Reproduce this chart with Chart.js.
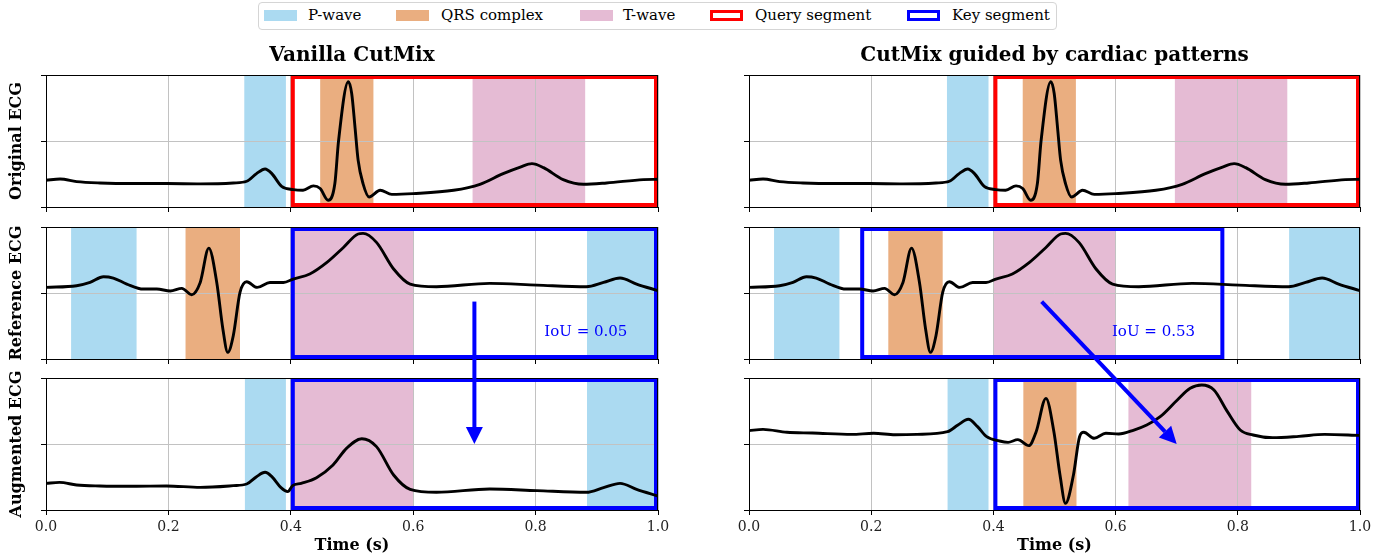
<!DOCTYPE html>
<html>
<head>
<meta charset="utf-8">
<script src="https://cdn.jsdelivr.net/npm/chart.js@4.4.1/dist/chart.umd.min.js"></script>
<style>
  body { margin: 0; background: #fff; width: 1395px; height: 556px; position: relative; overflow: hidden; font-family: "DejaVu Serif", serif; }
  canvas { position: absolute; }
  #legend { position: absolute; left: 258px; top: 2px; width: 797px; height: 26px; border: 1px solid #d5d5d5; border-radius: 4px; }
  .patch { position: absolute; top: 7px; width: 33px; height: 11px; box-sizing: border-box; }
  .lbl { position: absolute; top: 2px; font-size: 15px; line-height: 20px; color: #000; white-space: nowrap; }
</style>
</head>
<body>
<div id="legend">
  <div class="patch" style="left:5px;background:#abdaf1"></div><div class="lbl" style="left:49px">P-wave</div>
  <div class="patch" style="left:137px;background:#eaae80"></div><div class="lbl" style="left:182px">QRS complex</div>
  <div class="patch" style="left:321px;background:#e5bbd4"></div><div class="lbl" style="left:364px">T-wave</div>
  <div class="patch" style="left:451px;border:3px solid #ff0000"></div><div class="lbl" style="left:496px">Query segment</div>
  <div class="patch" style="left:648px;border:3px solid #0000ff"></div><div class="lbl" style="left:693px">Key segment</div>
</div>

<canvas id="L1" width="680" height="179" style="left:0;top:36px"></canvas>
<canvas id="R1" width="695" height="179" style="left:700px;top:36px"></canvas>
<canvas id="L2" width="680" height="152" style="left:0;top:215px"></canvas>
<canvas id="R2" width="695" height="152" style="left:700px;top:215px"></canvas>
<canvas id="L3" width="680" height="341" style="left:0;top:215px"></canvas>
<canvas id="R3" width="695" height="341" style="left:700px;top:215px"></canvas>

<script>
// ---- data (time in s, amplitude normalised to the axis range -1..1) ----
const origTime = [0, 0.023, 0.05, 0.088, 0.143, 0.197, 0.252, 0.306, 0.328, 0.344, 0.358, 0.369, 0.385, 0.404, 0.420, 0.437, 0.448, 0.461, 0.472, 0.478, 0.494, 0.4995, 0.505, 0.510, 0.518, 0.528, 0.546, 0.565, 0.600, 0.666, 0.709, 0.747, 0.775, 0.794, 0.813, 0.845, 0.878, 0.916, 0.976, 1.0];
const origEcg  = [-0.595, -0.575, -0.615, -0.636, -0.645, -0.645, -0.65, -0.636, -0.61, -0.494, -0.424, -0.494, -0.686, -0.737, -0.747, -0.68, -0.72, -0.898, -0.645, 0.0, 0.9, 0.72, 0.2, -0.29, -0.645, -0.848, -0.747, -0.808, -0.797, -0.747, -0.656, -0.494, -0.394, -0.343, -0.404, -0.585, -0.656, -0.636, -0.585, -0.58];

const refTime = [0, 0.05, 0.072, 0.094, 0.11, 0.132, 0.159, 0.181, 0.203, 0.222, 0.238, 0.252, 0.266, 0.279, 0.289, 0.297, 0.306, 0.317, 0.328, 0.345, 0.366, 0.388, 0.404, 0.431, 0.459, 0.486, 0.51, 0.518, 0.54, 0.568, 0.595, 0.638, 0.725, 0.802, 0.883, 0.911, 0.938, 0.965, 1.0];
const refEcg  = [0.085, 0.11, 0.16, 0.247, 0.227, 0.136, 0.06, 0.06, 0.03, 0.07, -0.026, 0.16, 0.68, 0.16, -0.545, -0.9, -0.647, 0.01, 0.171, 0.085, 0.16, 0.16, 0.212, 0.288, 0.464, 0.69, 0.894, 0.903, 0.767, 0.364, 0.136, 0.095, 0.146, 0.12, 0.095, 0.16, 0.227, 0.136, 0.035];

const augVanillaTime = [0, 0.022, 0.05, 0.088, 0.143, 0.197, 0.252, 0.306, 0.328, 0.344, 0.358, 0.369, 0.384, 0.395, 0.403, 0.417, 0.442, 0.469, 0.491, 0.516, 0.54, 0.568, 0.595, 0.638, 0.725, 0.802, 0.883, 0.911, 0.938, 0.965, 1.0];
const augVanillaEcg  = [-0.596, -0.581, -0.621, -0.636, -0.641, -0.636, -0.657, -0.631, -0.606, -0.495, -0.429, -0.495, -0.662, -0.722, -0.631, -0.596, -0.51, -0.318, -0.066, 0.08, -0.04, -0.47, -0.687, -0.732, -0.682, -0.707, -0.732, -0.662, -0.596, -0.687, -0.788];

const augGuidedTime = [0, 0.023, 0.062, 0.104, 0.168, 0.204, 0.239, 0.275, 0.325, 0.342, 0.359, 0.374, 0.389, 0.41, 0.424, 0.44, 0.458, 0.47, 0.486, 0.499, 0.509, 0.518, 0.531, 0.541, 0.548, 0.565, 0.584, 0.605, 0.63, 0.651, 0.673, 0.701, 0.722, 0.741, 0.761, 0.783, 0.804, 0.825, 0.857, 0.9, 0.942, 1.0];
const augGuidedEcg  = [0.202, 0.222, 0.177, 0.167, 0.146, 0.162, 0.141, 0.146, 0.187, 0.288, 0.374, 0.263, 0.111, 0.045, 0.025, 0.066, -0.025, 0.187, 0.692, 0.187, -0.47, -0.899, -0.47, 0.111, 0.177, 0.086, 0.162, 0.152, 0.212, 0.288, 0.414, 0.667, 0.843, 0.894, 0.818, 0.49, 0.212, 0.136, 0.096, 0.116, 0.146, 0.131];

// wave intervals [start, end] in seconds
const origP = [[0.324, 0.392]];
const origQRS = [[0.448, 0.535]];
const origT = [[0.697, 0.881]];
const refP = [[0.041, 0.148], [0.884, 1.0]];
const refQRS = [[0.228, 0.317]];
const refT = [[0.4, 0.6]];
const augVanillaP = [[0.325, 0.392], [0.884, 1.0]];
const augVanillaQRS = [];
const augVanillaT = [[0.4, 0.6]];
const augGuidedP = [[0.325, 0.392]];
const augGuidedQRS = [[0.449, 0.536]];
const augGuidedT = [[0.621, 0.822]];

const querySegment = [0.4, 1.0];
const keyVanilla = [0.4, 1.0];
const keyGuided = [0.182, 0.778];
const augSegment = [0.4, 1.0];
const iouVanilla = 0.05;
const iouGuided = 0.53;

const xTicks = [0, 0.2, 0.4, 0.6, 0.8, 1.0];

const COLORS = { p: '#abdaf1', qrs: '#eaae80', t: '#e5bbd4', query: '#ff0000', key: '#0000ff' };
const SERIF = '"DejaVu Serif", serif';
Chart.defaults.font.family = SERIF;
Chart.defaults.color = '#000';

const charts = {};

function bandList(p, q, t) {
  const out = [];
  p.forEach(b => out.push({ from: b[0], to: b[1], color: COLORS.p }));
  q.forEach(b => out.push({ from: b[0], to: b[1], color: COLORS.qrs }));
  t.forEach(b => out.push({ from: b[0], to: b[1], color: COLORS.t }));
  return out;
}

function drawArrow(ctx, x0, y0, x1, y1, color) {
  const dx = x1 - x0, dy = y1 - y0;
  const len = Math.hypot(dx, dy);
  const ux = dx / len, uy = dy / len;
  const headLen = 17, headW = 17;
  const bx = x1 - ux * headLen, by = y1 - uy * headLen;
  ctx.save();
  ctx.strokeStyle = color;
  ctx.fillStyle = color;
  ctx.lineWidth = 4;
  ctx.lineCap = 'butt';
  ctx.beginPath();
  ctx.moveTo(x0, y0);
  ctx.lineTo(bx, by);
  ctx.stroke();
  ctx.beginPath();
  ctx.moveTo(x1, y1);
  ctx.lineTo(bx - uy * headW / 2, by + ux * headW / 2);
  ctx.lineTo(bx + uy * headW / 2, by - ux * headW / 2);
  ctx.closePath();
  ctx.fill();
  ctx.restore();
}

// bands, segment boxes, frame, labels and arrows
const ecgDecor = {
  id: 'ecgDecor',
  beforeDraw(chart, args, opts) {
    const { ctx, chartArea: a, scales: { x } } = chart;
    ctx.save();
    (opts.bands || []).forEach(b => {
      const x0 = x.getPixelForValue(b.from), x1 = x.getPixelForValue(b.to);
      ctx.fillStyle = b.color;
      ctx.fillRect(x0, a.top, x1 - x0, a.bottom - a.top);
    });
    ctx.restore();
  },
  beforeDatasetsDraw(chart, args, opts) {
    const { ctx, chartArea: a, scales: { x } } = chart;
    if (!opts.box) return;
    const lw = 4;
    const x0 = x.getPixelForValue(opts.box.from), x1 = x.getPixelForValue(opts.box.to);
    ctx.save();
    ctx.strokeStyle = opts.box.color;
    ctx.lineWidth = lw;
    ctx.strokeRect(x0 + lw / 2, a.top + lw / 2, x1 - x0 - lw, a.bottom - a.top - lw);
    ctx.restore();
  },
  afterDatasetsDraw(chart) {
    const { ctx, chartArea: a } = chart;
    ctx.save();
    ctx.strokeStyle = '#000';
    ctx.lineWidth = 1;
    ctx.strokeRect(Math.round(a.left) + 0.5, Math.round(a.top) + 0.5, Math.round(a.right - a.left) - 1, Math.round(a.bottom - a.top));
    ctx.restore();
  },
  afterDraw(chart, args, opts) {
    const { ctx, scales: { x, y } } = chart;
    if (opts.label) {
      ctx.save();
      ctx.font = '15px ' + SERIF;
      ctx.fillStyle = COLORS.key;
      ctx.textAlign = 'right';
      ctx.textBaseline = 'middle';
      ctx.fillText(opts.label.text, x.getPixelForValue(opts.label.x), y.getPixelForValue(opts.label.y));
      ctx.restore();
    }
    if (opts.arrow) {
      const ref = charts[opts.arrow.fromChart];
      const dxc = ref.canvas.offsetLeft - chart.canvas.offsetLeft;
      const dyc = ref.canvas.offsetTop - chart.canvas.offsetTop;
      const sx = ref.scales.x.getPixelForValue(opts.arrow.from[0]) + dxc;
      const sy = ref.scales.y.getPixelForValue(opts.arrow.from[1]) + dyc;
      drawArrow(ctx, sx, sy, x.getPixelForValue(opts.arrow.to[0]), y.getPixelForValue(opts.arrow.to[1]), COLORS.key);
    }
  }
};

function makeChart(id, cfg) {
  const left = id[0] === 'L';
  const bottomRow = id[1] === '3';
  charts[id] = new Chart(document.getElementById(id), {
    type: 'line',
    data: {
      datasets: [{
        data: cfg.time.map((t, i) => ({ x: t, y: cfg.ecg[i] })),
        borderColor: '#000',
        borderWidth: 2.9,
        pointRadius: 0,
        cubicInterpolationMode: 'monotone',
        fill: false
      }]
    },
    options: {
      responsive: false,
      animation: false,
      events: [],
      layout: { padding: { top: cfg.padTop, right: left ? 22 : 35, bottom: 0, left: 0 } },
      plugins: {
        legend: { display: false },
        tooltip: { enabled: false },
        title: {
          display: !!cfg.title,
          text: cfg.title || '',
          fullSize: false,
          font: { size: 20, weight: 'bold', family: SERIF },
          color: '#000',
          padding: { top: 8, bottom: 7 }
        },
        ecgDecor: { bands: cfg.bands, box: cfg.box, label: cfg.label, arrow: cfg.arrow }
      },
      scales: {
        x: {
          type: 'linear', min: 0, max: 1,
          afterBuildTicks: s => { s.ticks = xTicks.map(v => ({ value: v })); },
          afterFit: s => { s.height = bottomRow ? 46 : 8; },
          border: { display: false },
          grid: { color: '#c2c2c2', lineWidth: 1, drawTicks: true, tickLength: 5, tickColor: '#000', tickWidth: 1 },
          ticks: { display: bottomRow, padding: 4, font: { size: 14 }, color: '#222', maxRotation: 0, callback: v => Number(v).toFixed(1) },
          title: { display: bottomRow, text: 'Time (s)', font: { size: 16, weight: 'bold' }, color: '#000', padding: { top: 0, bottom: 1 } }
        },
        y: {
          type: 'linear', min: -1, max: 1,
          ticks: { display: false, stepSize: 1 },
          afterFit: s => { s.width = left ? 46 : 49; },
          border: { display: false },
          grid: { color: '#c2c2c2', lineWidth: 1, drawTicks: true, tickLength: 5, tickColor: '#000', tickWidth: 1 },
          title: { display: left, text: cfg.yTitle || '', font: { size: 16, weight: 'bold' }, color: '#000', padding: { top: 7, bottom: 0 } }
        }
      }
    },
    plugins: [ecgDecor]
  });
}

makeChart('L1', {
  time: origTime, ecg: origEcg, padTop: 0, title: 'Vanilla CutMix', yTitle: 'Original ECG',
  bands: bandList(origP, origQRS, origT), box: { from: querySegment[0], to: querySegment[1], color: COLORS.query }
});
makeChart('R1', {
  time: origTime, ecg: origEcg, padTop: 0, title: 'CutMix guided by cardiac patterns',
  bands: bandList(origP, origQRS, origT), box: { from: querySegment[0], to: querySegment[1], color: COLORS.query }
});
makeChart('L2', {
  time: refTime, ecg: refEcg, padTop: 12, yTitle: 'Reference ECG',
  bands: bandList(refP, refQRS, refT), box: { from: keyVanilla[0], to: keyVanilla[1], color: COLORS.key },
  label: { text: 'IoU = ' + iouVanilla.toFixed(2), x: 0.95, y: -0.6 }
});
makeChart('R2', {
  time: refTime, ecg: refEcg, padTop: 12,
  bands: bandList(refP, refQRS, refT), box: { from: keyGuided[0], to: keyGuided[1], color: COLORS.key },
  label: { text: 'IoU = ' + iouGuided.toFixed(2), x: 0.73, y: -0.6 }
});
makeChart('L3', {
  time: augVanillaTime, ecg: augVanillaEcg, padTop: 163, yTitle: 'Augmented ECG',
  bands: bandList(augVanillaP, augVanillaQRS, augVanillaT), box: { from: augSegment[0], to: augSegment[1], color: COLORS.key },
  arrow: { fromChart: 'L2', from: [0.7, -0.13], to: [0.7, 0.0] }
});
makeChart('R3', {
  time: augGuidedTime, ecg: augGuidedEcg, padTop: 163,
  bands: bandList(augGuidedP, augGuidedQRS, augGuidedT), box: { from: augSegment[0], to: augSegment[1], color: COLORS.key },
  arrow: { fromChart: 'R2', from: [0.479, -0.13], to: [0.7, 0.0] }
});
</script>
</body>
</html>
